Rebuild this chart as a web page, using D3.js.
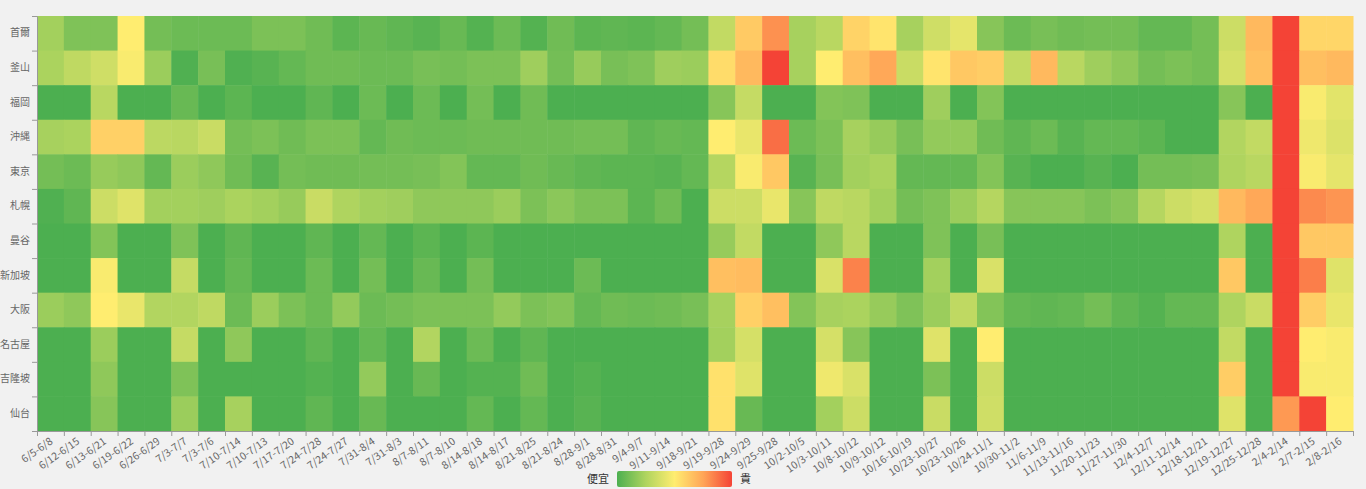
<!DOCTYPE html>
<html>
<head>
<meta charset="utf-8">
<script src="https://cdn.jsdelivr.net/npm/d3@7/dist/d3.min.js"></script>
<style>
  body { margin: 0; background: #f1f1f1; }
  text { font-family: "Noto Sans CJK TC", "Noto Sans", sans-serif; }
</style>
</head>
<body>
<div id="chart"></div>
<script>
//Set Dimensions

const width = 1366, height = 489;
const margin = {top: 16, right: 13, bottom: 58, left: 37};
const plotW = width - margin.left - margin.right;
const plotH = height - margin.top - margin.bottom;

//Categories

const cities = ["首爾", "釜山", "福岡", "沖縄", "東京", "札幌", "曼谷", "新加坡", "大阪", "名古屋", "吉隆坡", "仙台"];

const periods = ["6/5-6/8", "6/12-6/15", "6/13-6/21", "6/19-6/22", "6/26-6/29", "7/3-7/7", "7/3-7/6",
  "7/10-7/14", "7/10-7/13", "7/17-7/20", "7/24-7/28", "7/24-7/27", "7/31-8/4", "7/31-8/3",
  "8/7-8/11", "8/7-8/10", "8/14-8/18", "8/14-8/17", "8/21-8/25", "8/21-8/24", "8/28-9/1",
  "8/28-8/31", "9/4-9/7", "9/11-9/14", "9/18-9/21", "9/19-9/28", "9/24-9/29", "9/25-9/28",
  "10/2-10/5", "10/3-10/11", "10/8-10/12", "10/9-10/12", "10/16-10/19", "10/23-10/27",
  "10/23-10/26", "10/24-11/1", "10/30-11/2", "11/6-11/9", "11/13-11/16", "11/20-11/23",
  "11/27-11/30", "12/4-12/7", "12/11-12/14", "12/18-12/21", "12/19-12/27", "12/25-12/28",
  "2/4-2/14", "2/7-2/15", "2/8-2/16"];

//Price level per city (0 = cheap, 10 = expensive), one value per period

const seoul = [2.2, 1.3, 1.3, 5, 1, 0.8, 0.8, 0.8, 1.2, 1.2,
  0.9, 0.4, 0.7, 0.5, 0.3, 0.7, 0.2, 0.8, 0.2, 0.9,
  0.4, 0.5, 0.4, 0.6, 1, 3.1, 6.2, 8, 2.3, 2.8,
  5.9, 5.3, 2.3, 3.5, 4.2, 1.5, 0.8, 1.1, 0.9, 1,
  1, 0.6, 0.6, 1, 3.4, 6.8, 10, 5.8, 5.8];
const busan = [2.4, 3, 3.5, 4.8, 2, 0.1, 1.1, 0.1, 0.3, 0.6,
  0.9, 0.9, 0.8, 0.8, 1.1, 1, 1.2, 1.2, 2.1, 1,
  1.9, 1.1, 1.3, 2.1, 2, 5.6, 6.8, 10, 2.3, 5,
  6.6, 7.4, 3.3, 5.3, 6.3, 6.1, 3.1, 6.8, 2.8, 2.1,
  1.7, 1, 1.2, 1, 3.7, 6.6, 10, 6.6, 6.8];
const fukuoka = [0, 0, 2.8, 0, 0, 0.7, 0, 0.4, 0, 0,
  0.5, 0, 0.8, 0, 0.8, 0, 1, 0, 0.9, 0,
  0, 0, 0, 0, 0, 1.5, 3.2, 0, 0, 1.4,
  1.3, 0, 0, 2.1, 0, 1.4, 0, 0, 0, 0,
  0, 0, 0, 0, 1.5, 0, 10, 4.8, 4.1];
const okinawa = [2.3, 2.4, 6, 6, 2.9, 2.8, 3.3, 1, 1.2, 0.9,
  1.2, 1.2, 0.6, 0.9, 0.8, 0.8, 0.9, 0.9, 0.9, 0.9,
  1, 1, 0.5, 0.7, 0.6, 5, 4.3, 8.9, 0.8, 1.2,
  2.3, 1.9, 1.1, 1.8, 1.8, 0.9, 0.5, 0.8, 0.3, 0.6,
  0.6, 0.4, 0, 0, 2.6, 3.1, 10, 4.5, 3.9];
const tokyo = [1, 0.8, 1.9, 1.7, 0.6, 2, 1.7, 0.9, 0.3, 1,
  0.9, 0.9, 1, 1, 1.1, 1.4, 0.6, 0.6, 0.9, 0.7,
  0.5, 0.4, 0.4, 0.3, 0.6, 2.7, 4.8, 6.3, 0.3, 1.1,
  2.2, 2.4, 0.6, 0.6, 0.6, 1.4, 0.3, 0, 0, 0.3,
  0, 1, 1, 1.1, 2.5, 2.8, 10, 4.8, 4.2];
const sapporo = [0.1, 0.5, 3.4, 4, 2.2, 2.2, 2.1, 2.4, 2.2, 1.9,
  3.3, 2.5, 2.2, 2.1, 1.7, 1.7, 1.7, 2, 1.2, 1.6,
  1.2, 1.2, 0.4, 0.9, 0, 3.4, 3.4, 4.3, 1.5, 3,
  2.8, 2.2, 1, 1.3, 2, 2.7, 1.5, 1.5, 1.5, 1.2,
  1.5, 2.7, 3.4, 3.7, 6.8, 7.4, 10, 8.2, 7.9];
const bangkok = [0, 0, 1.4, 0, 0, 1.3, 0, 0.5, 0, 0,
  0.5, 0, 0.6, 0, 0.4, 0, 0.4, 0, 0, 0,
  0, 0, 0, 0, 0, 1.9, 3.1, 0, 0, 1.7,
  2.8, 0, 0, 1.3, 0, 1.1, 0, 0, 0, 0,
  0, 0, 0, 0, 2.5, 0, 10, 6.3, 6.3];
const singapore = [0, 0, 4.8, 0, 0, 3.2, 0, 0.6, 0, 0,
  0.8, 0, 1, 0, 0.7, 0, 1, 0, 0, 0,
  0.8, 0, 0, 0, 0, 6.6, 6.7, 0, 0, 3.8,
  8.4, 0, 0, 2.2, 0, 3.8, 0, 0, 0, 0,
  0, 0, 0, 0, 6.3, 0, 10, 8.5, 4];
const osaka = [2, 1.7, 5, 4.3, 2.6, 2.6, 3, 0.8, 2, 1.2,
  0.8, 1.8, 0.8, 1, 1.2, 1.2, 1.2, 1.8, 1.2, 1.4,
  0.6, 0.9, 0.8, 0.9, 1.1, 2.3, 6, 6.6, 1.4, 2.3,
  2.4, 1.9, 1.3, 2, 3, 1.4, 0.6, 0.5, 0.6, 1,
  0.5, 0.2, 0.6, 0.6, 2.5, 3.3, 10, 6.1, 4.3];
const nagoya = [0, 0, 2, 0, 0, 3.2, 0, 1.7, 0, 0,
  0.5, 0, 0.6, 0, 2.6, 0, 0.8, 0, 0.5, 0,
  0, 0, 0, 0, 0, 2.2, 3.7, 0, 0, 3.7,
  1.5, 0, 0, 4, 0, 5, 0, 0, 0, 0,
  0, 0, 0, 0, 3.1, 0, 10, 5, 4.8];
const kualaLumpur = [0, 0, 1.7, 0, 0, 1.3, 0, 0, 0, 0,
  0.2, 0, 1.8, 0, 0.7, 0, 0.2, 0.2, 0.9, 0,
  0.2, 0, 0, 0, 0, 5.4, 4, 0, 0, 4.5,
  3.8, 0, 0, 1.2, 0, 3.4, 0, 0, 0, 0,
  0, 0, 0, 0, 6.1, 0, 10, 4.8, 4.8];
const sendai = [0, 0, 1.5, 0, 0, 2, 0, 2.3, 0, 0,
  0.5, 0, 0.7, 0, 0, 0, 0.6, 0, 0.6, 0,
  0.3, 0, 0, 0, 0, 5.4, 0.7, 0, 0, 2.2,
  3.4, 0, 0, 3.3, 0, 3.5, 0, 0, 0, 0,
  0, 0, 0, 0, 4, 0, 7.8, 10, 5];

const rows = [seoul, busan, fukuoka, okinawa, tokyo, sapporo, bangkok, singapore, osaka, nagoya, kualaLumpur, sendai];

//Legend texts

const legendLow = "便宜";
const legendHigh = "貴";

//Flatten into cells

const cells = [];
rows.forEach((vals, r) => {
  vals.forEach((v, c) => { cells.push({city: cities[r], period: periods[c], value: v}); });
});

//Append SVG Object to the Page

const svg = d3.select("#chart")
  .append("svg")
  .attr("width", width)
  .attr("height", height);

const g = svg.append("g")
  .attr("transform", "translate(" + margin.left + "," + margin.top + ")");

//Scales

const x = d3.scaleBand().domain(periods).range([0, plotW]);
const y = d3.scaleBand().domain(cities).range([0, plotH]);
const xEdge = d3.scaleLinear().domain([0, periods.length]).range([0, plotW]);
const yEdge = d3.scaleLinear().domain([0, cities.length]).range([0, plotH]);

const color = d3.scaleLinear()
  .domain([0, 2.5, 5, 7.5, 10])
  .range(["#4caf50", "#afd45f", "#ffed70", "#ffa557", "#f44336"])
  .interpolate(d3.interpolateRgb);

//Cells

g.selectAll("rect.cell")
  .data(cells)
  .enter()
  .append("rect")
  .attr("class", "cell")
  .attr("x", d => x(d.period))
  .attr("y", d => y(d.city))
  .attr("width", x.bandwidth() + 0.5)
  .attr("height", y.bandwidth() + 0.5)
  .attr("fill", d => color(d.value));

//X Axis: ticks on band edges, labels in the middle

g.append("g")
  .attr("transform", "translate(0," + plotH + ")")
  .call(d3.axisBottom(xEdge).tickValues(d3.range(periods.length + 1)).tickFormat("").tickSize(5).tickSizeOuter(0))
  .call(a => a.selectAll("line, path").attr("stroke", "#999"));

const xLabels = g.append("g")
  .attr("transform", "translate(0," + plotH + ")")
  .call(d3.axisBottom(x).tickSize(0).tickPadding(0));
xLabels.select(".domain").remove();
xLabels.selectAll("text")
  .attr("fill", "#666")
  .style("font-size", "10.5px")
  .attr("text-anchor", "end")
  .attr("dy", null)
  .attr("y", 0)
  .attr("transform", "translate(3,12) rotate(-35)");

//Y Axis

g.append("g")
  .call(d3.axisLeft(yEdge).tickValues(d3.range(cities.length + 1)).tickFormat("").tickSize(5).tickSizeOuter(0))
  .call(a => a.selectAll("line, path").attr("stroke", "#999"));

const yLabels = g.append("g")
  .call(d3.axisLeft(y).tickSize(0).tickPadding(7));
yLabels.select(".domain").remove();
yLabels.selectAll("text")
  .attr("fill", "#666")
  .style("font-size", "10px");

//Legend

const legend = svg.append("g").attr("transform", "translate(617,471)");
const grad = svg.append("defs").append("linearGradient").attr("id", "grad");
grad.selectAll("stop")
  .data(color.domain())
  .enter()
  .append("stop")
  .attr("offset", d => (d / 10 * 100) + "%")
  .attr("stop-color", d => color(d));

legend.append("rect")
  .attr("width", 115)
  .attr("height", 16)
  .attr("rx", 2)
  .attr("fill", "url(#grad)");

legend.append("text")
  .attr("x", -8).attr("y", 8)
  .attr("dy", "0.35em")
  .attr("text-anchor", "end")
  .attr("fill", "#333")
  .style("font-size", "11px")
  .text(legendLow);

legend.append("text")
  .attr("x", 123).attr("y", 8)
  .attr("dy", "0.35em")
  .attr("fill", "#333")
  .style("font-size", "11px")
  .text(legendHigh);
</script>
</body>
</html>
